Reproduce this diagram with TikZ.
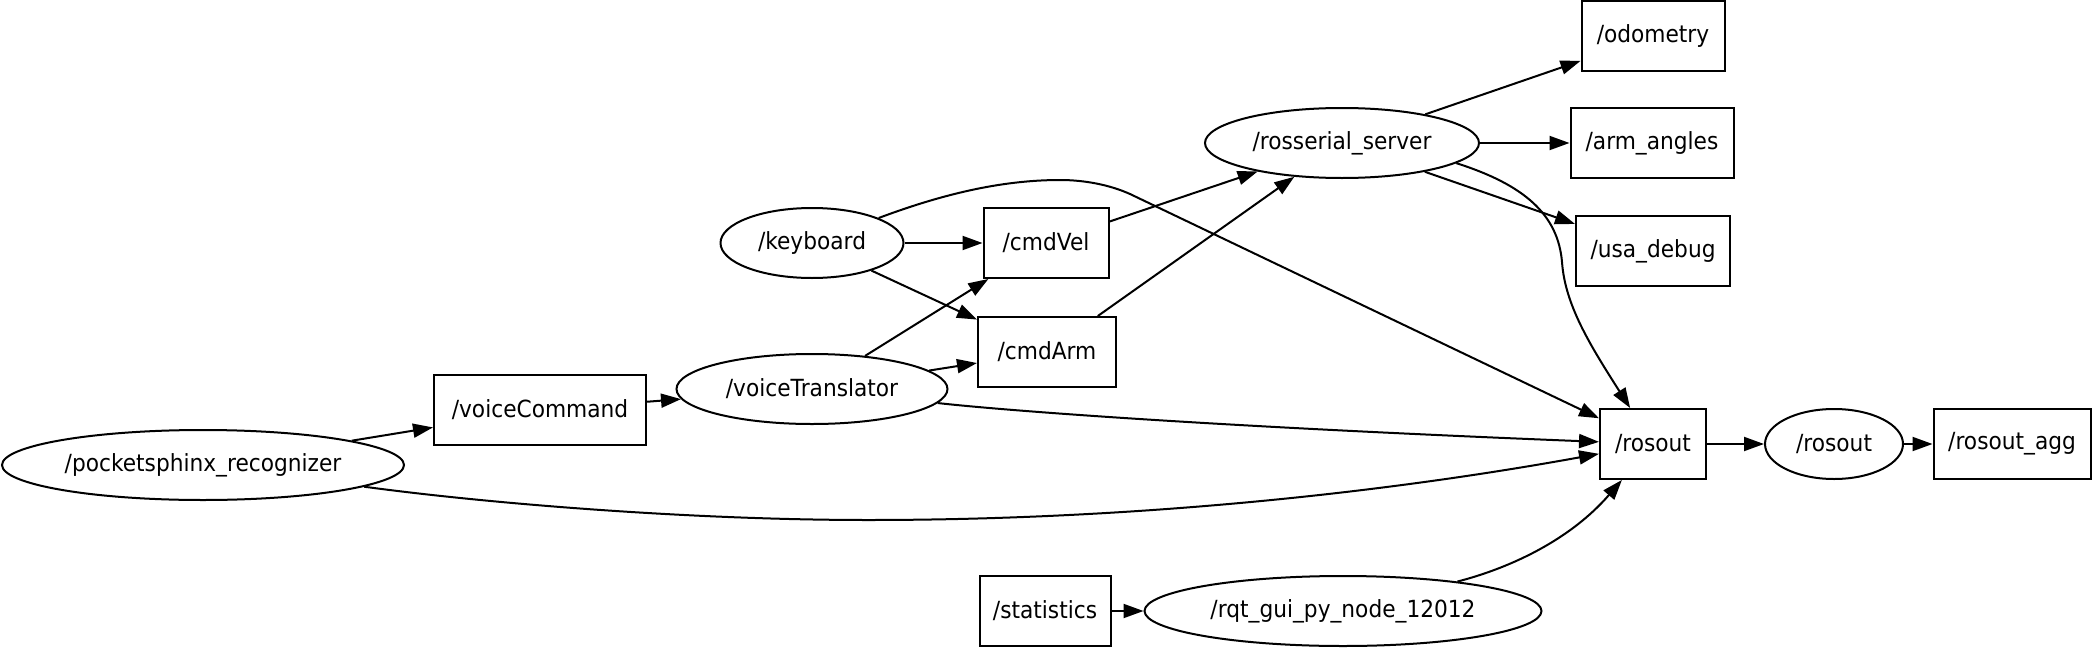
\documentclass[tikz,border=0pt]{standalone}
\usepackage{fontspec}
\setmainfont{DejaVu Sans}[FakeStretch=0.92]
\usetikzlibrary{shapes.geometric,arrows.meta}

\tikzset{
  rosnode/.style={draw, ellipse, line width=1pt, inner sep=0pt, minimum height=35pt},
  rostopic/.style={draw, rectangle, line width=1pt, inner sep=0pt, minimum height=35pt},
  conn/.style={line width=1pt, -{Triangle[length=10pt,width=7pt]}}
}

\begin{document}
\begin{tikzpicture}[x=0.5pt, y=-0.5pt, font=\fontsize{11.8}{14}\selectfont]
\useasboundingbox (0,0) rectangle (2093,648);

% Nodes
\node[rosnode, minimum width=201pt] (ps) at (203,465) {/pocketsphinx\_recognizer};
\node[rosnode, minimum width=135.5pt] (vt) at (812,389) {/voiceTranslator};
\node[rosnode, minimum width=91.5pt] (kb) at (812,243) {/keyboard};
\node[rosnode, minimum width=137pt] (rs) at (1342,143) {/rosserial\_server};
\node[rosnode, minimum width=69pt] (rosoutN) at (1834,444) {/rosout};
\node[rosnode, minimum width=198.5pt] (rqt) at (1343,611) {/rqt\_gui\_py\_node\_12012};

% Topics
\node[rostopic, minimum width=106pt] (vc) at (540,410) {/voiceCommand};
\node[rostopic, minimum width=62.5pt] (cmdVel) at (1046,243) {/cmdVel};
\node[rostopic, minimum width=69pt] (cmdArm) at (1047,352) {/cmdArm};
\node[rostopic, minimum width=71.5pt] (odom) at (1653,36) {/odometry};
\node[rostopic, minimum width=81.5pt] (armAng) at (1652,143) {/arm\_angles};
\node[rostopic, minimum width=77pt] (usaDbg) at (1653,251) {/usa\_debug};
\node[rostopic, minimum width=53pt] (rosout) at (1653,444) {/rosout};
\node[rostopic, minimum width=78.5pt] (rosAgg) at (2012,444) {/rosout\_agg};
\node[rostopic, minimum width=65.5pt] (stats) at (1045,611) {/statistics};

% Edges
\draw[conn] (ps) -- (vc);
\draw[conn] (vc) -- (vt);
\draw[conn] (vt) -- (cmdVel);
\draw[conn] (vt) -- (cmdArm);
\draw[conn] (kb) -- (cmdVel);
\draw[conn] (kb) -- (cmdArm);
\draw[conn] (cmdVel) -- (rs);
\draw[conn] (cmdArm) -- (rs);
\draw[conn] (rs) -- (odom);
\draw[conn] (rs) -- (armAng);
\draw[conn] (rs) -- (usaDbg);
\draw[conn] (stats) -- (rqt);
\draw[conn] (rosout) -- (rosoutN);
\draw[conn] (rosoutN) -- (rosAgg);

% Edges into /rosout
\draw[conn] (rs.-10) .. controls (1525,185) and (1558,215) .. (1562,262)
  .. controls (1565,305) and (1590,345) .. (rosout);
\draw[conn] (kb) .. controls (940,195) and (1000,180) .. (1060,180)
  .. controls (1085,180) and (1110,185) .. (1130,194) -- (rosout);
\draw[conn] (vt) .. controls (1000,410) and (1200,426) .. (rosout);
\draw[conn] (ps) .. controls (500,505) and (700,520) .. (868,520)
  .. controls (1150,520) and (1400,490) .. (rosout);
\draw[conn] (rqt) .. controls (1510,568) and (1570,540) .. (rosout);
\end{tikzpicture}
\end{document}
